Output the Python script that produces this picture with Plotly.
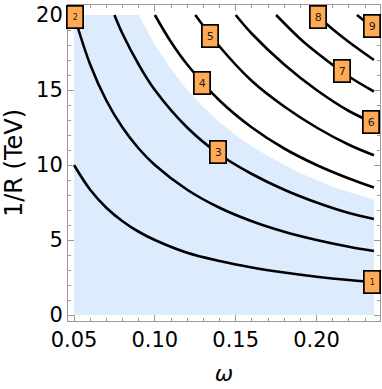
import plotly.graph_objects as go

# ---- data ----
# contour lines: omega values and 1/R (TeV) values
omega_1 = [0.05, 0.06, 0.07, 0.08, 0.09, 0.10, 0.12, 0.14, 0.16, 0.18, 0.20, 0.22, 0.2355]
invR_1 = [10.0, 8.35, 7.15, 6.25, 5.55, 5.0, 4.15, 3.6, 3.17, 2.83, 2.55, 2.33, 2.2]

omega_2 = [0.05, 0.06, 0.07, 0.08, 0.09, 0.10, 0.12, 0.14, 0.16, 0.18, 0.20, 0.22, 0.2355]
invR_2 = [20.0, 16.7, 14.3, 12.5, 11.1, 10.0, 8.35, 7.15, 6.25, 5.55, 5.0, 4.55, 4.27]

omega_3 = [0.075, 0.08, 0.09, 0.10, 0.12, 0.14, 0.16, 0.18, 0.20, 0.22, 0.2355]
invR_3 = [20.0, 18.75, 16.7, 15.0, 12.5, 10.7, 9.4, 8.35, 7.5, 6.8, 6.4]

omega_4 = [0.10, 0.11, 0.12, 0.14, 0.16, 0.18, 0.20, 0.22, 0.2355]
invR_4 = [20.0, 18.2, 16.7, 14.3, 12.5, 11.1, 10.0, 9.1, 8.5]

omega_5 = [0.125, 0.14, 0.16, 0.18, 0.20, 0.22, 0.2355]
invR_5 = [20.0, 17.9, 15.6, 13.9, 12.5, 11.35, 10.65]

omega_6 = [0.15, 0.16, 0.18, 0.20, 0.22, 0.2355]
invR_6 = [20.0, 18.75, 16.7, 15.0, 13.6, 12.8]

omega_7 = [0.175, 0.19, 0.20, 0.22, 0.2355]
invR_7 = [20.0, 18.4, 17.5, 15.9, 14.9]

omega_8 = [0.20, 0.21, 0.22, 0.2355]
invR_8 = [20.0, 19.05, 18.2, 17.0]

omega_9 = [0.225, 0.2355]
invR_9 = [20.0, 19.1]

lines_omega = [omega_1, omega_2, omega_3, omega_4, omega_5, omega_6, omega_7, omega_8, omega_9]
lines_invR = [invR_1, invR_2, invR_3, invR_4, invR_5, invR_6, invR_7, invR_8, invR_9]

# contour labels and where they sit
label_text = ["1", "2", "3", "4", "5", "6", "7", "8", "9"]
label_omega = [0.2341, 0.0504, 0.1391, 0.1292, 0.1342, 0.2335, 0.2157, 0.2010, 0.2343]
label_invR = [2.18, 19.85, 10.85, 15.5, 18.6, 12.85, 16.3, 19.85, 19.3]

# shaded (allowed) region: upper boundary
region_omega = [0.05, 0.09, 0.10, 0.11, 0.12, 0.13, 0.14, 0.15, 0.16, 0.17, 0.18,
                0.19, 0.20, 0.21, 0.22, 0.2355]
region_top = [20.0, 20.0, 18.0, 16.4, 15.0, 13.85, 12.85, 12.0, 11.25, 10.6, 10.0,
              9.45, 9.0, 8.55, 8.2, 7.7]
region_bottom = 0.0

x_ticks = [0.05, 0.10, 0.15, 0.20]
x_ticklabels = ["0.05", "0.10", "0.15", "0.20"]
y_ticks = [0, 5, 10, 15, 20]
y_ticklabels = ["0", "5", "10", "15", "20"]

# ---- figure ----
fig = go.Figure()

poly_x = [region_omega[0]] + region_omega + [region_omega[-1], region_omega[0]]
poly_y = [region_bottom] + region_top + [region_bottom, region_bottom]
fig.add_trace(go.Scatter(x=poly_x, y=poly_y, mode="lines", fill="toself",
                         fillcolor="#dcecfd", line=dict(width=0, color="#dcecfd"),
                         hoverinfo="skip", showlegend=False))

for xs, ys in zip(lines_omega, lines_invR):
    fig.add_trace(go.Scatter(x=xs, y=ys, mode="lines",
                             line=dict(color="black", width=2.6, shape="spline"),
                             showlegend=False, hoverinfo="skip"))

for t, xo, yo in zip(label_text, label_omega, label_invR):
    small = t in ("1", "2")
    fig.add_annotation(x=xo, y=yo, text=t, showarrow=False,
                       xanchor="center", yanchor="middle",
                       font=dict(family="DejaVu Sans", size=8 if small else 11, color="#222"),
                       bgcolor="#ffab55", bordercolor="black", borderwidth=1.7,
                       borderpad=1, width=13, height=19)

axis_common = dict(showline=True, linecolor="#9a9a9a", linewidth=1, mirror="allticks",
                   ticks="inside", ticklen=6, tickcolor="#9a9a9a", tickwidth=1,
                   showgrid=False, zeroline=False, automargin=False,
                   tickfont=dict(family="DejaVu Sans", size=21, color="black"))

fig.update_xaxes(range=[0.04629, 0.23924], tickvals=x_ticks, ticktext=x_ticklabels,
                 minor=dict(ticks="inside", ticklen=3, dtick=0.01, tick0=0.0,
                            tickcolor="#9a9a9a", showgrid=False),
                 title=dict(text="<i>ω</i>", font=dict(family="DejaVu Sans", size=22, color="black"),
                            standoff=14),
                 **axis_common)
fig.update_yaxes(range=[-0.4, 20.667], tickvals=y_ticks, ticktext=y_ticklabels,
                 minor=dict(ticks="inside", ticklen=3, dtick=1, tick0=0,
                            tickcolor="#9a9a9a", showgrid=False),
                 title=dict(text="1/R (TeV)", font=dict(family="DejaVu Sans", size=24, color="black"),
                            standoff=10),
                 **axis_common)

fig.update_layout(width=382, height=389, margin=dict(l=68, r=2, t=5, b=68),
                  plot_bgcolor="white", paper_bgcolor="white", showlegend=False)

fig.write_html("out.html", config={"displayModeBar": False},
               post_script="document.body.style.margin='0';document.body.style.overflow='hidden';")
